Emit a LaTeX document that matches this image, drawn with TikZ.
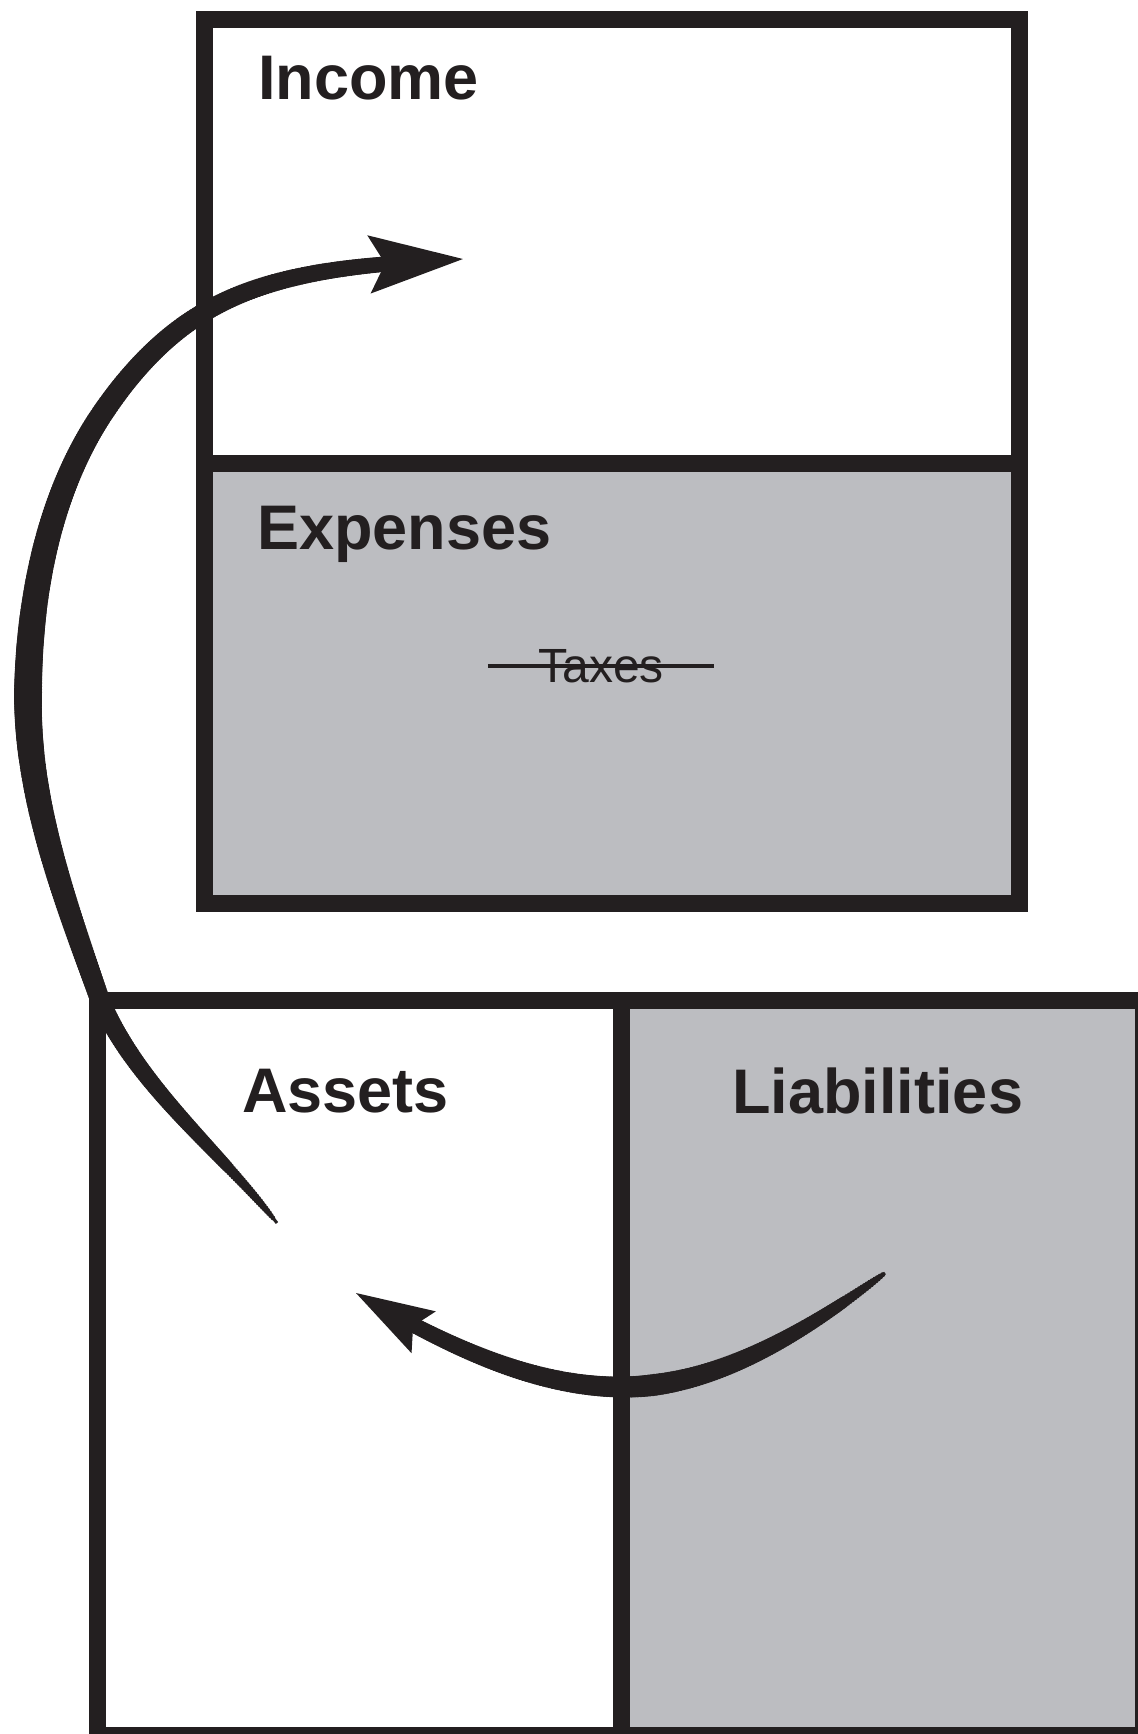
\documentclass[tikz,border=0pt]{standalone}
\usepackage{fontspec}
\setmainfont{Liberation Sans}
\usetikzlibrary{arrows.meta,decorations.markings}

\definecolor{ink}{RGB}{35,31,32}
\definecolor{panelgray}{RGB}{188,189,193}

\tikzset{
  panel/.style={draw=ink, line width=8.5pt},
  heading/.style={anchor=base west, inner sep=0pt, text=ink, font=\fontsize{31.5}{36}\selectfont\bfseries},
  struck/.style={inner sep=0pt, inner xsep=25pt, text=ink, font=\fontsize{24}{28}\selectfont},
  % #1 last position, #2 share of the length per mark, #3 radius (pt) of the stroke at \brushpos
  brush/.style n args={3}{
    decoration={markings,
      mark=between positions 0.005 and #1 step 1.5pt with {
        \pgfmathsetmacro\brushpos{\pgfkeysvalueof{/pgf/decoration/mark info/sequence number}*#2}
        \pgfmathsetmacro\brushrad{#3}
        \fill[ink] (0,0) circle[radius=\brushrad pt];
      }},
    postaction={decorate}}
}

\begin{document}
\begin{tikzpicture}[x=0.5pt,y=-0.5pt]
            \useasboundingbox (0,0) rectangle (1138,1734);

            % income statement
            \draw[panel, fill=white] (204,20) rectangle (1019,463);
            \draw[panel, fill=panelgray] (204,463) rectangle (1019,903);
            \node[heading] (income) at (258,100) {Income};
            \node[heading] (expenses) at (257,549) {Expenses};
            \node[struck] (taxes) at (601,666) {Taxes};
            \draw[ink, line width=1.8pt] (taxes.west) -- (taxes.east);

            % balance sheet
            \draw[panel, fill=white] (97,1000) rectangle (621,1735);
            \draw[panel, fill=panelgray] (621,1000) rectangle (1143,1735);
            \node[heading] (assets) at (242,1112) {Assets};
            \node[heading] (liabilities) at (732,1113) {Liabilities};

            \coordinate (asOut) at (277,1223);
            \coordinate (inIn) at (463,259);
            \coordinate (liOut) at (885,1273);
            \coordinate (asIn) at (356,1293);

            \draw[ink, line width=1.5pt, -{Stealth[length=47pt,width=29pt,inset=8pt]},
                  brush={0.965}{0.0023}{(\brushpos<0.22) ? (3+17*sqrt(\brushpos/0.22))/4 : ((\brushpos<0.46) ? (20+8*(\brushpos-0.22)/0.24)/4 : (28-14*(\brushpos-0.46)/0.54)/4)}]
              (asOut) .. controls (218,1149) and (138,1087) .. (100,1000)
                      .. controls (66,903) and (28,803) .. (28,700)
                      .. controls (28,603) and (47,498) .. (100,417)
                      .. controls (127,376) and (161,338) .. (203,313)
                      .. controls (277,268) and (376,264) .. (inIn);
            \draw[ink, line width=1.5pt, -{Stealth[length=39pt,width=24pt,inset=6pt]},
                  brush={0.9}{0.0052}{(\brushpos<0.45) ? (3+19*sqrt(\brushpos/0.45))/4 : (22-8*(\brushpos-0.45)/0.55)/4}]
              (liOut) .. controls (807,1330) and (718,1387) .. (622,1387)
                      .. controls (528,1387) and (437,1340) .. (asIn);
\end{tikzpicture}
\end{document}
